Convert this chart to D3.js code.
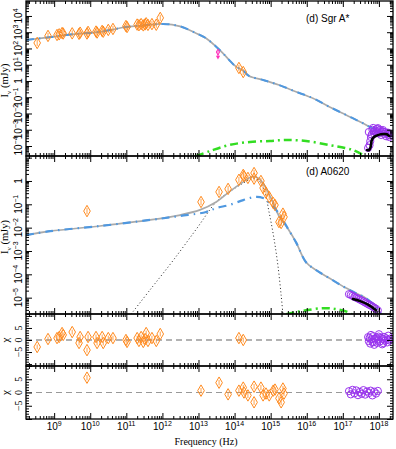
<!DOCTYPE html>
<html><head><meta charset="utf-8">
<script src="https://cdn.jsdelivr.net/npm/d3@7"></script>
<style>body{margin:0;background:#fff} svg{display:block}</style>
</head><body><svg id="c" width="396" height="449"></svg>
<script>
// ---------- DATA (log10 frequency in Hz, log10 flux in mJy) ----------
const xTickExps = [9,10,11,12,13,14,15,16,17,18];
const p1TickExps = [-4,-3,-2,-1,0,1,2,3,4];
const p2TickExps = [-5,-4,-3,-2,-1,0];
const chiTicks = [-5,0,5];
const panelLabels = ["(d) Sgr A*", "(d) A0620"];

// Sgr A* model (total == jet here)
const sgrModelNu = [8.22,9.0,9.5,10.27,11.0,11.5,12.02,12.49,12.93,13.21,13.49,13.68,13.85,14.04,14.24,14.40,14.79,15.23,15.70,16.17,16.62,17.09,17.56,18.0,18.39];
const sgrModelI  = [2.52,2.73,2.87,3.02,3.32,3.42,3.51,3.36,2.94,2.63,2.11,1.70,1.29,0.88,0.63,0.31,0.06,-0.25,-0.66,-1.06,-1.58,-2.09,-2.60,-3.12,-3.42];
// Sgr A* second (green) component
const sgrGreenNu = [12.93,13.32,13.85,14.43,14.98,15.43,15.98,16.62,17.06,17.28,17.56];
const sgrGreenI  = [-4.62,-4.31,-3.94,-3.75,-3.69,-3.63,-3.69,-3.94,-4.12,-4.25,-4.55];
// Sgr A* radio/sub-mm/IR data + residuals
const sgrNu  = [8.53,8.83,9.08,9.14,9.22,9.25,9.50,9.69,9.72,9.91,9.94,10.16,10.19,10.33,10.36,10.50,10.63,10.99,11.02,11.30,11.35,11.41,11.47,11.52,11.55,11.60,11.71,11.83,11.94,14.12,14.24];
const sgrI   = [2.34,2.77,2.83,2.87,2.95,2.92,2.93,2.90,2.97,2.92,3.02,3.04,2.98,3.08,3.03,3.14,3.20,3.38,3.32,3.47,3.43,3.50,3.42,3.48,3.55,3.45,3.50,3.46,3.88,0.80,0.55];
const sgrChi = [-2.9,0.4,0.8,1.25,2.9,2.1,3.3,-1.25,1.25,-4.2,1.25,1.25,-1.25,1.25,-1.25,0.8,0.8,0.0,-0.8,0.8,-0.4,1.25,-0.8,0.4,2.9,-0.4,0.8,-0.4,2.5,0.8,0.0];
// Sgr A* upper limit
const sgrLimNu = [13.54];
const sgrLimI  = [1.78];
// Sgr A* X-ray data + residuals
const sgrXNu  = [17.70,17.72,17.74,17.76,17.78,17.80,17.82,17.84,17.87,17.90,17.93,17.95,17.97,18.00,18.03,18.06,18.09,18.11,18.14,18.17,18.20,18.23,18.26,18.29,18.31,17.86,17.99,18.12,18.25];
const sgrXI   = [-4.12,-3.14,-3.95,-3.70,-3.45,-3.30,-3.00,-2.89,-3.25,-3.05,-3.20,-2.95,-2.90,-3.10,-3.00,-3.32,-3.10,-3.02,-3.25,-3.15,-3.40,-3.20,-3.30,-3.45,-3.35,-3.10,-3.22,-3.12,-3.18];
const sgrXChi = [1.2,-0.5,0.8,-1.5,2.1,0.3,-0.8,1.6,-2.0,0.5,1.0,-1.2,0.2,2.4,-0.6,0.9,-1.8,0.4,1.3,-0.3,0.7,-1.0,1.8,-0.2,0.6,-0.9,1.4,-1.3,0.1];
// Sgr A* unfolded X-ray spectrum (black)
const sgrXLineNu = [17.67,17.73,17.77,17.79,17.82,17.88,17.97,18.06,18.15,18.22,18.28];
const sgrXLineI  = [-4.25,-4.25,-4.05,-3.75,-3.55,-3.42,-3.33,-3.28,-3.26,-3.28,-3.38];

// A0620 model components
const aTotNu = [8.22,8.89,10.27,11.66,12.49,13.04,13.49,13.85,14.24,14.46,14.65,14.82,15.07,15.23,15.48,15.70,15.98,16.26,16.62,17.09,17.37,17.64,17.98,18.06,18.2];
const aTotI  = [-2.32,-2.15,-1.93,-1.67,-1.46,-1.24,-0.90,-0.47,-0.04,0.17,0.13,-0.17,-0.94,-1.50,-2.05,-2.62,-3.48,-3.82,-4.16,-4.59,-4.81,-5.02,-5.49,-5.71,-6.0];
const aJetNu = [8.22,8.89,10.27,11.66,12.49,13.21,13.49,13.85,14.24,14.54,14.79,14.96,15.15,15.34,15.48,15.70,15.98,16.26,16.62,17.09,17.37,17.64,17.98,18.06,18.2];
const aJetI  = [-2.32,-2.15,-1.93,-1.67,-1.50,-1.33,-1.16,-1.03,-0.82,-0.69,-0.73,-0.94,-1.24,-1.67,-2.05,-2.62,-3.48,-3.82,-4.16,-4.59,-4.81,-5.02,-5.49,-5.71,-6.0];
const aDiskNu = [11.13,11.66,12.3,12.96,13.49,13.85,14.24,14.46,14.65,14.82,14.96,15.09,15.20,15.29,15.34];
const aDiskI  = [-5.71,-4.66,-3.40,-2.02,-0.90,-0.47,-0.09,0.09,0.04,-0.39,-1.37,-2.45,-3.61,-4.89,-5.71];
const aGreenNu = [15.43,15.70,15.98,16.45,16.81,17.14,17.25];
const aGreenI  = [-5.71,-5.62,-5.54,-5.45,-5.49,-5.62,-5.71];
// A0620 data + residuals
const aNu  = [9.91,13.07,13.57,13.82,14.12,14.24,14.26,14.37,14.54,14.54,14.73,14.79,14.87,14.96,15.07,15.12,15.23,15.29,15.34,15.37];
const aI   = [-1.29,-0.90,-0.47,-0.34,0.05,0.26,0.20,0.13,0.34,0.10,0.00,-0.30,-0.50,-0.69,-0.94,-1.03,-1.76,-1.80,-1.40,-1.54];
const aChi = [5.6,0.7,3.7,-0.7,0.7,1.85,0.0,-1.1,2.2,-3.7,1.85,-1.1,-0.4,-1.1,0.7,1.1,-2.2,-3.7,1.5,-0.4];
// A0620 X-ray
const aXNu  = [17.17,17.22,17.27,17.32,17.37,17.42,17.47,17.52,17.57,17.62,17.67,17.72,17.77,17.82,17.87,17.92,17.97];
const aXI   = [-4.85,-4.88,-4.92,-4.97,-5.00,-5.04,-5.08,-5.12,-5.16,-5.21,-5.25,-5.30,-5.33,-5.38,-5.43,-5.48,-5.55];
const aXChi = [0.5,-0.7,1.0,-0.3,0.8,-1.0,0.2,-0.5,0.9,-0.8,0.4,-0.2,0.7,-1.1,0.3,-0.4,0.6];
const aXLineNu = [17.28,17.50,17.70,17.92];
const aXLineI  = [-5.06,-5.16,-5.30,-5.54];

// ---------- STYLE ----------
const ORANGE = "#ff8a1e", PURPLE = "#9933ee", GRAY = "#aaaaaa", BLUE = "#4f98e0", GREEN = "#33dd22";
const SANS = "'Liberation Sans', Arial, sans-serif", SERIF = "'Liberation Serif', 'Times New Roman', serif";

const svg = d3.select("#c");
const L = 26, R = 393;
const x = d3.scaleLog().domain([10**8.22, 10**18.39]).range([L, R]);
const panels = [
  {top:1, bottom:156, y:d3.scaleLog().domain([10**-4.615, 10**4.92]).range([156,1]), log:true},
  {top:156, bottom:314, y:d3.scaleLog().domain([10**-5.70, 10**1.07]).range([314,156]), log:true},
  {top:314, bottom:366, y:d3.scaleLinear().domain([-10.8,10.8]).range([366,314]), log:false},
  {top:366, bottom:419, y:d3.scaleLinear().domain([-10,10]).range([419,366]), log:false}
];
const zip = (a,b) => a.map((v,i)=>[v,b[i]]);

// clip paths
const defs = svg.append("defs");
panels.forEach((p,i)=>{
  defs.append("clipPath").attr("id","clip"+i).append("rect")
    .attr("x",L).attr("y",p.top).attr("width",R-L).attr("height",p.bottom-p.top);
});

// ---------- MODEL CURVES ----------
function logLine(p){
  return d3.line().x(d=>x(10**d[0])).y(d=>p.y(10**d[1])).curve(d3.curveCatmullRom.alpha(0.5));
}
function drawCurve(pi, nu, I, stroke, width, dash){
  const p = panels[pi];
  svg.append("path").attr("clip-path",`url(#clip${pi})`)
    .datum(zip(nu,I)).attr("d", logLine(p))
    .attr("fill","none").attr("stroke",stroke).attr("stroke-width",width)
    .attr("stroke-dasharray",dash||null).attr("stroke-linecap","butt");
}
// panel 1
drawCurve(0, sgrModelNu, sgrModelI, GRAY, 1.7);
drawCurve(0, sgrModelNu, sgrModelI, BLUE, 2, "8,5,1.5,5");
drawCurve(0, sgrGreenNu, sgrGreenI, GREEN, 2.5, "8,4,2,4");
// panel 2
drawCurve(1, aDiskNu, aDiskI, "#222", 1, "1,2.5");
drawCurve(1, aTotNu, aTotI, GRAY, 1.7);
drawCurve(1, aJetNu, aJetI, BLUE, 2.2, "8,5,1.5,5");
drawCurve(1, aGreenNu, aGreenI, GREEN, 2.5, "8,4,2,4");

// zero lines in chi panels
[[2,"#666"],[3,"#999"]].forEach(([pi,c])=>{
  const p = panels[pi];
  svg.append("line").attr("x1",L).attr("x2",R).attr("y1",p.y(0)).attr("y2",p.y(0))
    .attr("stroke",c).attr("stroke-width",1.2).attr("stroke-dasharray","6,4");
});

// ---------- DATA MARKERS ----------
const diamond = d3.symbol().type(d3.symbolDiamond).size(38)();
function diamonds(pi, nu, v, isLog){
  const p = panels[pi];
  const g = svg.append("g").attr("clip-path",`url(#clip${pi})`);
  const pts = zip(nu,v);
  g.selectAll("line.eb").data(pts).join("line")
    .attr("x1",d=>x(10**d[0])).attr("x2",d=>x(10**d[0]))
    .attr("y1",d=> isLog ? p.y(10**d[1])-3 : p.y(d[1]+1))
    .attr("y2",d=> isLog ? p.y(10**d[1])+3 : p.y(d[1]-1))
    .attr("stroke",ORANGE).attr("stroke-width",0.8);
  g.selectAll("path.dm").data(pts).join("path")
    .attr("d",diamond)
    .attr("transform",d=>`translate(${x(10**d[0])},${isLog? p.y(10**d[1]) : p.y(d[1])})`)
    .attr("fill","none").attr("stroke",ORANGE).attr("stroke-width",1);
}
function circles(pi, nu, v, isLog){
  const p = panels[pi];
  svg.append("g").attr("clip-path",`url(#clip${pi})`)
    .selectAll("circle").data(zip(nu,v)).join("circle")
    .attr("cx",d=>x(10**d[0])).attr("cy",d=> isLog? p.y(10**d[1]) : p.y(d[1]))
    .attr("r",3.6).attr("fill","none").attr("stroke",PURPLE).attr("stroke-width",1);
}
function blackLine(pi, nu, I){
  svg.append("path").attr("clip-path",`url(#clip${pi})`)
    .datum(zip(nu,I)).attr("d", d3.line().x(d=>x(10**d[0])).y(d=>panels[pi].y(10**d[1])).curve(d3.curveCatmullRom))
    .attr("fill","none").attr("stroke","#000").attr("stroke-width",2.6).attr("stroke-linecap","round");
}
diamonds(0, sgrNu, sgrI, true);
circles(0, sgrXNu, sgrXI, true);
blackLine(0, sgrXLineNu, sgrXLineI);
// upper limit
const lim = zip(sgrLimNu, sgrLimI);
const gl = svg.append("g").selectAll("g").data(lim).join("g")
  .attr("transform",d=>`translate(${x(10**d[0])},${panels[0].y(10**d[1])})`);
gl.append("path").attr("d",d3.symbol().type(d3.symbolDiamond).size(10)()).attr("fill","none").attr("stroke","#ff33bb").attr("stroke-width",1);
gl.append("line").attr("x1",0).attr("x2",0).attr("y1",-2).attr("y2",5).attr("stroke","#ff33bb").attr("stroke-width",1);
gl.append("path").attr("d",d3.symbol().type(d3.symbolTriangle).size(8)()).attr("transform","translate(0,5) rotate(180)").attr("fill","#ff33bb");

diamonds(1, aNu, aI, true);
circles(1, aXNu, aXI, true);
blackLine(1, aXLineNu, aXLineI);

diamonds(2, sgrNu, sgrChi, false);
circles(2, sgrXNu, sgrXChi, false);
diamonds(3, aNu, aChi, false);
circles(3, aXNu, aXChi, false);

// ---------- AXES / TICKS ----------
const majorX = xTickExps.map(e=>10**e).concat([10**8]).filter(v=>v>=x.domain()[0]&&v<=x.domain()[1]);
const minorX = [];
for(let e=8;e<=18;e++) for(let m=2;m<=9;m++){const v=m*10**e; if(v>=x.domain()[0]&&v<=x.domain()[1]) minorX.push(v);}
function tickAxis(axisFn, scale, vals, size, tx, ty){
  const g = svg.append("g").attr("transform",`translate(${tx},${ty})`)
    .call(axisFn(scale).tickValues(vals).tickSize(size).tickFormat(""));
  g.select(".domain").remove();
  g.selectAll("line").attr("stroke","#000").attr("stroke-width",1);
}
panels.forEach((p,i)=>{
  tickAxis(d3.axisBottom, x, majorX, 6, 0, p.top);
  tickAxis(d3.axisBottom, x, minorX, 3, 0, p.top);
  tickAxis(d3.axisTop, x, majorX, 6, 0, p.bottom);
  tickAxis(d3.axisTop, x, minorX, 3, 0, p.bottom);
  let maj, mnr;
  if(p.log){
    const [lo,hi] = p.y.domain();
    maj=[]; mnr=[];
    for(let e=-7;e<=6;e++){
      const v=10**e; if(v>=lo&&v<=hi) maj.push(v);
      for(let m=2;m<=9;m++){const w=m*10**e; if(w>=lo&&w<=hi) mnr.push(w);}
    }
  } else {
    maj=[-10,-5,0,5,10]; mnr=d3.range(-10,11,1).filter(v=>v%5!==0);
  }
  tickAxis(d3.axisRight, p.y, maj, 6, L, 0);
  tickAxis(d3.axisRight, p.y, mnr, 3, L, 0);
  tickAxis(d3.axisLeft, p.y, maj, 6, R, 0);
  tickAxis(d3.axisLeft, p.y, mnr, 3, R, 0);
  svg.append("rect").attr("x",L).attr("y",p.top).attr("width",R-L).attr("height",p.bottom-p.top)
    .attr("fill","none").attr("stroke","#000").attr("stroke-width",1.3);
});

// ---------- LABELS ----------
function powLabel(sel, e){
  if(e===0){ sel.text("1"); return; }
  sel.append("tspan").text("10");
  sel.append("tspan").attr("dy",-4).attr("font-size",7).text(e<0? "\u2212"+(-e) : String(e));
}
// x tick labels
svg.append("g").selectAll("text").data(xTickExps).join("text")
  .attr("x",e=>x(10**e)).attr("y",430).attr("text-anchor","middle")
  .attr("font-family",SANS).attr("font-size",10).attr("fill","#000")
  .each(function(e){ powLabel(d3.select(this), e); });
// y tick labels (rotated)
function yLabels(p, exps){
  svg.append("g").selectAll("text").data(exps).join("text")
    .attr("transform",e=>`translate(22,${p.y(10**e)}) rotate(-90)`)
    .attr("text-anchor","middle").attr("font-family",SANS).attr("font-size",10).attr("fill","#000")
    .each(function(e){ powLabel(d3.select(this), e); });
}
yLabels(panels[0], p1TickExps);
yLabels(panels[1], p2TickExps);
[2,3].forEach(pi=>{
  svg.append("g").selectAll("text").data(chiTicks).join("text")
    .attr("transform",v=>`translate(22,${panels[pi].y(v)}) rotate(-90)`)
    .attr("text-anchor","middle").attr("font-family",SERIF).attr("font-size",10).attr("fill","#000")
    .text(v=> v<0? "\u2212"+(-v) : String(v));
  svg.append("text").attr("transform",`translate(9,${panels[pi].y(0)}) rotate(-90)`)
    .attr("text-anchor","middle").attr("font-family",SERIF).attr("font-size",11).text("\u03c7");
});
[0,1].forEach(pi=>{
  const p = panels[pi];
  const t = svg.append("text").attr("transform",`translate(8,${(p.top+p.bottom)/2+2}) rotate(-90)`)
    .attr("text-anchor","middle").attr("font-family",SERIF).attr("font-size",10.5);
  t.append("tspan").text("I");
  t.append("tspan").attr("dy",2.5).attr("font-size",7).text("\u03bd");
  t.append("tspan").attr("dy",-2.5).text(" (mJy)");
  svg.append("text").attr("x",306).attr("y",pi===0?22:175)
    .attr("font-family",SANS).attr("font-size",10).text(panelLabels[pi]);
});
svg.append("text").attr("x",206).attr("y",445).attr("text-anchor","middle")
  .attr("font-family",SERIF).attr("font-size",10).text("Frequency (Hz)");
</script></body></html>
